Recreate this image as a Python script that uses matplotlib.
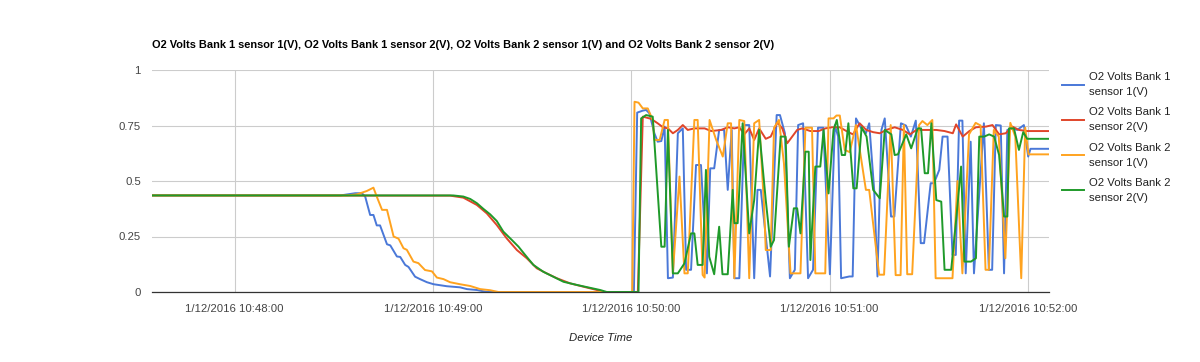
import matplotlib
matplotlib.use("Agg")
import matplotlib.pyplot as plt

plt.rcParams['font.family'] = ['Liberation Sans', 'DejaVu Sans']

# time values: seconds after 1/12/2016 10:47:00
b1s1_t = [35.0, 92.0, 96.5, 98.5, 99.5, 101.0, 102.0, 103.0, 104.0, 106.1, 107.1, 109.1, 110.1,
          111.6, 112.6, 114.6, 116.1, 118.2, 120.2, 124.2, 128.2, 130.3, 133.3, 136.3, 180.8,
          181.8, 183.5, 184.5, 185.5, 187.0, 188.0, 189.1, 190.1, 191.1, 192.6, 194.1, 195.6,
          196.6, 198.1, 199.6, 201.1, 202.9, 203.9, 205.1, 206.6, 208.1, 209.2, 210.4, 211.2,
          212.7, 214.2, 215.7, 217.2, 218.2, 219.2, 222.0, 224.0, 225.0, 226.5, 228.0, 229.5,
          230.5, 232.0, 233.5, 235.0, 236.5, 238.1, 240.1, 241.6, 242.6, 243.5, 246.0, 247.0,
          248.0, 249.5, 251.0, 252.0, 253.5, 254.5, 255.7, 256.7, 258.6, 259.6, 261.6, 263.1,
          264.6, 266.1, 267.6, 268.6, 270.6, 271.6, 273.2, 274.2, 275.7, 277.2, 278.2, 279.2,
          280.2, 281.2, 282.7, 283.7, 286.7, 288.2, 289.2, 290.3, 291.8, 292.8, 293.8, 295.3,
          296.8, 298.8, 300.1, 300.8, 306.4]
b1s1_v = [0.435, 0.435, 0.445, 0.445, 0.43, 0.347, 0.347, 0.30, 0.30, 0.215, 0.21, 0.16, 0.158,
          0.122, 0.113, 0.069, 0.058, 0.044, 0.035, 0.026, 0.021, 0.013, 0.009, 0.0, 0.0,
          0.808, 0.817, 0.82, 0.805, 0.715, 0.677, 0.68, 0.745, 0.062, 0.065, 0.715, 0.737,
          0.10, 0.10, 0.572, 0.572, 0.084, 0.557, 0.557, 0.73, 0.73, 0.46, 0.73, 0.062,
          0.062, 0.752, 0.752, 0.062, 0.46, 0.46, 0.07, 0.797, 0.797, 0.715, 0.062, 0.10,
          0.752, 0.76, 0.062, 0.10, 0.74, 0.74, 0.08, 0.752, 0.70, 0.062, 0.07, 0.07,
          0.782, 0.74, 0.715, 0.76, 0.46, 0.07, 0.73, 0.782, 0.34, 0.34, 0.76, 0.75,
          0.70, 0.772, 0.22, 0.22, 0.49, 0.49, 0.55, 0.70, 0.70, 0.167, 0.167, 0.772,
          0.772, 0.084, 0.677, 0.084, 0.76, 0.10, 0.10, 0.752, 0.75, 0.084, 0.73, 0.737,
          0.73, 0.752, 0.61, 0.645, 0.645]

b1s2_t = [35.0, 125.2, 129.2, 133.3, 136.3, 139.3, 142.3, 145.4, 148.4, 151.4, 154.4, 157.5,
          161.5, 165.5, 169.6, 171.6, 182.0, 183.5, 186.0, 188.0, 189.6, 191.1, 192.6, 194.1,
          195.6, 197.1, 199.1, 202.2, 204.2, 207.2, 209.2, 211.2, 212.7, 214.2, 215.7, 217.2,
          218.7, 220.7, 222.2, 224.2, 225.7, 227.2, 228.7, 230.2, 231.7, 234.2, 236.7, 238.7,
          240.7, 243.1, 245.1, 247.1, 249.1, 251.1, 253.2, 255.2, 257.2, 259.7, 262.2, 264.3,
          266.3, 268.3, 272.3, 274.8, 277.3, 278.3, 280.3, 282.3, 284.3, 287.3, 289.3, 291.3,
          293.3, 295.3, 297.3, 299.8, 306.4]
b1s2_v = [0.435, 0.434, 0.425, 0.392, 0.354, 0.302, 0.242, 0.189, 0.152, 0.107, 0.084, 0.062,
          0.039, 0.024, 0.009, 0.0, 0.0, 0.79, 0.78, 0.76, 0.742, 0.737, 0.715, 0.73,
          0.752, 0.73, 0.737, 0.737, 0.725, 0.73, 0.742, 0.737, 0.742, 0.71, 0.737, 0.685,
          0.737, 0.69, 0.70, 0.764, 0.737, 0.67, 0.70, 0.73, 0.737, 0.725, 0.725, 0.737,
          0.742, 0.742, 0.725, 0.71, 0.76, 0.73, 0.72, 0.715, 0.73, 0.742, 0.73, 0.71,
          0.73, 0.73, 0.73, 0.725, 0.715, 0.755, 0.70, 0.725, 0.742, 0.745, 0.752, 0.71,
          0.715, 0.745, 0.73, 0.725, 0.725]

b2s1_t = [35.0, 94.0, 97.0, 100.0, 102.0, 103.0, 104.6, 106.1, 108.1, 109.6, 111.1, 112.1,
          114.1, 115.6, 117.6, 119.7, 121.2, 123.2, 125.2, 128.2, 131.3, 134.3, 137.3, 139.8,
          180.3, 181.0, 182.2, 183.5, 185.0, 186.5, 187.0, 188.6, 190.1, 191.1, 192.6, 194.6,
          196.1, 197.1, 199.1, 200.1, 201.6, 202.2, 203.7, 205.7, 207.7, 209.2, 210.2, 211.2,
          212.7, 214.2, 215.7, 217.2, 218.7, 220.2, 220.7, 222.2, 223.2, 224.7, 226.2, 228.2,
          231.2, 232.7, 234.7, 235.7, 238.7, 239.7, 241.2, 242.1, 243.1, 244.6, 246.1, 248.0,
          251.0, 252.0, 254.0, 255.0, 256.5, 258.5, 260.0, 261.5, 262.5, 263.5, 265.0, 267.1,
          268.1, 269.6, 271.1, 272.1, 277.2, 278.7, 280.2, 282.2, 284.2, 285.7, 287.2, 288.2,
          289.7, 291.2, 293.2, 294.7, 296.2, 298.0, 299.2, 300.2, 306.4]
b2s1_v = [0.435, 0.435, 0.44, 0.455, 0.47, 0.43, 0.37, 0.37, 0.25, 0.24, 0.197, 0.19,
          0.137, 0.13, 0.099, 0.093, 0.065, 0.058, 0.044, 0.035, 0.027, 0.013, 0.008, 0.0,
          0.0, 0.857, 0.853, 0.827, 0.827, 0.775, 0.685, 0.685, 0.775, 0.775, 0.084, 0.52,
          0.084, 0.084, 0.775, 0.775, 0.077, 0.065, 0.775, 0.685, 0.61, 0.76, 0.76, 0.062,
          0.775, 0.77, 0.062, 0.76, 0.775, 0.384, 0.189, 0.189, 0.74, 0.775, 0.58, 0.084,
          0.084, 0.74, 0.74, 0.084, 0.084, 0.782, 0.782, 0.795, 0.795, 0.64, 0.63, 0.752,
          0.46, 0.46, 0.204, 0.078, 0.078, 0.752, 0.076, 0.076, 0.752, 0.08, 0.08, 0.752,
          0.77, 0.752, 0.775, 0.062, 0.062, 0.50, 0.084, 0.71, 0.762, 0.75, 0.10, 0.10,
          0.73, 0.70, 0.152, 0.762, 0.70, 0.062, 0.74, 0.62, 0.62]

b2s2_t = [35.0, 126.1, 129.2, 131.3, 133.3, 135.3, 137.3, 139.3, 141.3, 143.9, 145.9, 147.9,
          150.4, 153.4, 156.4, 159.5, 163.5, 167.5, 170.6, 172.6, 182.2, 183.0, 184.5, 186.5,
          189.1, 190.1, 191.1, 192.6, 194.1, 196.1, 198.1, 199.1, 200.1, 201.6, 202.6, 203.6,
          205.1, 206.6, 207.6, 209.2, 210.7, 211.2, 212.2, 213.7, 215.7, 217.2, 218.7, 220.7,
          222.2, 223.2, 225.2, 226.7, 227.7, 229.2, 230.2, 231.2, 232.7, 233.7, 234.2, 235.7,
          237.2, 238.2, 239.7, 241.2, 242.2, 243.7, 244.7, 245.7, 247.2, 248.2, 249.7, 251.2,
          253.2, 255.2, 256.7, 258.7, 259.7, 260.7, 263.2, 264.7, 266.7, 267.7, 268.8, 269.8,
          270.8, 272.3, 273.8, 274.8, 276.8, 278.3, 279.8, 280.8, 282.8, 284.3, 285.3, 286.8,
          288.3, 289.8, 291.3, 292.8, 293.8, 294.3, 295.8, 297.3, 298.6, 299.8, 306.4]
b2s2_v = [0.435, 0.435, 0.43, 0.419, 0.40, 0.374, 0.35, 0.32, 0.272, 0.234, 0.204, 0.167,
          0.122, 0.091, 0.069, 0.046, 0.032, 0.019, 0.009, 0.0, 0.0, 0.782, 0.797, 0.79,
          0.204, 0.204, 0.73, 0.084, 0.084, 0.129, 0.264, 0.264, 0.122, 0.122, 0.55, 0.159,
          0.08, 0.294, 0.08, 0.08, 0.46, 0.31, 0.31, 0.76, 0.264, 0.414, 0.73, 0.414,
          0.204, 0.234, 0.70, 0.70, 0.204, 0.377, 0.377, 0.264, 0.632, 0.632, 0.144, 0.565,
          0.565, 0.73, 0.444, 0.73, 0.775, 0.617, 0.617, 0.76, 0.467, 0.467, 0.742, 0.70,
          0.46, 0.422, 0.73, 0.71, 0.617, 0.62, 0.71, 0.647, 0.737, 0.737, 0.535, 0.535,
          0.76, 0.414, 0.407, 0.10, 0.10, 0.324, 0.565, 0.137, 0.137, 0.152, 0.70, 0.70,
          0.71, 0.70, 0.617, 0.34, 0.34, 0.737, 0.737, 0.64, 0.72, 0.69, 0.69]

series_names = ["O2 Volts Bank 1\nsensor 1(V)", "O2 Volts Bank 1\nsensor 2(V)",
                "O2 Volts Bank 2\nsensor 1(V)", "O2 Volts Bank 2\nsensor 2(V)"]
series_colors = ["#4a78d8", "#e0452a", "#ffa31f", "#1f9a2a"]

tick_secs = [60, 120, 180, 240, 300]
tick_labels = ["1/12/2016 10:48:00", "1/12/2016 10:49:00", "1/12/2016 10:50:00",
               "1/12/2016 10:51:00", "1/12/2016 10:52:00"]
y_ticks = [0, 0.25, 0.5, 0.75, 1]
y_labels = ["0", "0.25", "0.5", "0.75", "1"]

title = ("O2 Volts Bank 1 sensor 1(V), O2 Volts Bank 1 sensor 2(V), "
         "O2 Volts Bank 2 sensor 1(V) and O2 Volts Bank 2 sensor 2(V)")

fig = plt.figure(figsize=(12, 3.62), dpi=100)
ax = fig.add_axes([152/1200, 1 - 292/362, 897/1200, 222/362])

data = [(b1s1_t, b1s1_v), (b1s2_t, b1s2_v), (b2s1_t, b2s1_v), (b2s2_t, b2s2_v)]
for (t, v), name, c in zip(data, series_names, series_colors):
    ax.plot(t, v, color=c, lw=1.4, label=name, solid_joinstyle='round', zorder=3)

ax.set_xlim(b1s1_t[0], b1s1_t[-1])
ax.set_ylim(0, 1)
ax.set_xticks(tick_secs)
ax.set_xticklabels(tick_labels)
ax.set_yticks(y_ticks)
ax.set_yticklabels(y_labels)
ax.tick_params(axis='both', length=0, labelsize=8.2, colors='#444444')
ax.tick_params(axis='x', pad=8.5)
ax.tick_params(axis='y', pad=8)
ax.grid(True, color='#cccccc', lw=0.8)
ax.set_axisbelow(True)
for s in ['top', 'right', 'left']:
    ax.spines[s].set_visible(False)
ax.spines['bottom'].set_color('#333333')
ax.spines['bottom'].set_linewidth(0.9)
ax.spines['bottom'].set_zorder(4)

ax.set_xlabel("Device Time", fontstyle='italic', fontsize=8.2, color='#222222', labelpad=14)
fig.text(152/1200, 1 - 45/362, title, fontsize=7.9, fontweight='bold', color='#000000',
         ha='left', va='center')

leg = ax.legend(loc='upper left', bbox_to_anchor=(1062/1200, 1 - 72/362),
                bbox_transform=fig.transFigure, frameon=False, fontsize=8.2,
                handlelength=1.9, handletextpad=0.47, labelspacing=0.9, borderaxespad=0,
                borderpad=0)
for txt in leg.get_texts():
    txt.set_color('#222222')
    txt.set_linespacing(1.63)

fig.savefig("out.png", dpi=100)
